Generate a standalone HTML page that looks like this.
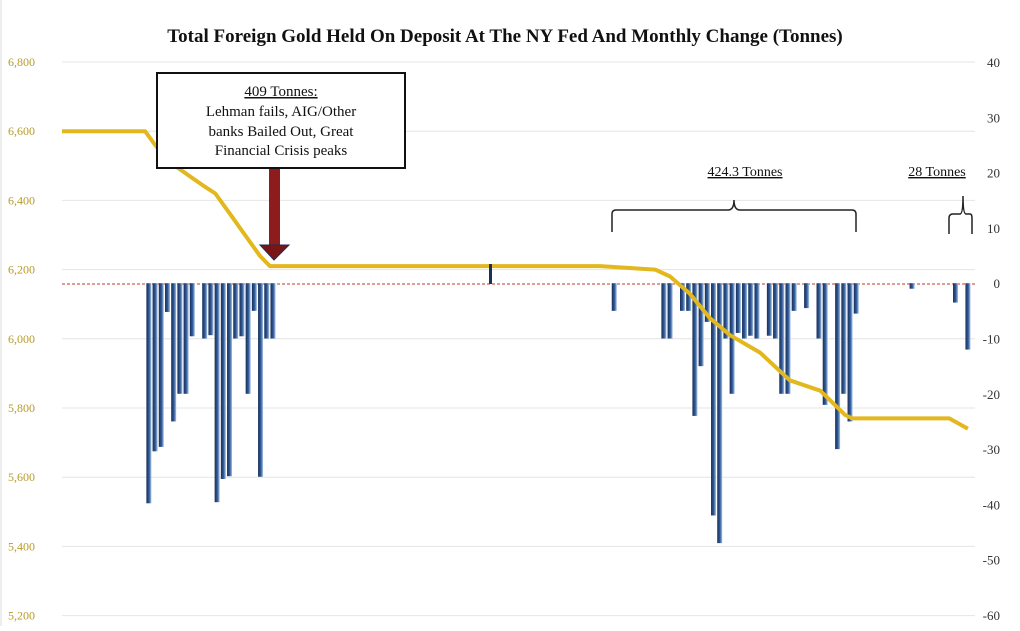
<!DOCTYPE html>
<html><head><meta charset="utf-8"><style>
body{margin:0;background:#fff;}
svg text{font-family:"Liberation Serif",serif;}
</style></head><body>
<svg id="chart" width="1020" height="626" viewBox="0 0 1020 626" xmlns="http://www.w3.org/2000/svg">
<defs>
<linearGradient id="barg" x1="0" x2="1" y1="0" y2="0">
<stop offset="0" stop-color="#1c2f55"/><stop offset="0.55" stop-color="#2e5a9a"/><stop offset="1" stop-color="#a9c4e6"/>
</linearGradient>
</defs>
<rect x="0" y="0" width="1020" height="626" fill="#fff"/>
<line x1="1" y1="0" x2="1" y2="626" stroke="#ddd"/>
<text x="505" y="42" text-anchor="middle" font-size="19" font-weight="bold" fill="#111">Total Foreign Gold Held On Deposit At The NY Fed And Monthly Change (Tonnes)</text>
<g id="grid"></g><g id="leftAxis"></g><g id="rightAxis"></g>
<line x1="62" y1="284" x2="975" y2="284" stroke="#c0392b" stroke-dasharray="3,2" stroke-width="1"/>
<g id="bars"></g>
<path id="goldLine" fill="none" stroke="#e3b81e" stroke-width="4" stroke-linejoin="round"/>
<g>
<rect x="157" y="73" width="248" height="95" fill="#fff" stroke="#111" stroke-width="2"/>
<text x="281" y="96" text-anchor="middle" font-size="15" text-decoration="underline" fill="#111">409 Tonnes:</text>
<text x="281" y="116" text-anchor="middle" font-size="15" fill="#111">Lehman fails, AIG/Other</text>
<text x="281" y="136" text-anchor="middle" font-size="15" fill="#111">banks Bailed Out, Great</text>
<text x="281" y="155" text-anchor="middle" font-size="15" fill="#111">Financial Crisis peaks</text>
</g>
<g>
<rect x="269" y="169" width="11" height="77" fill="#8e1c1c"/>
<polygon points="260,245 289,245 274,260" fill="#7a1515" stroke="#1c2f55" stroke-width="1"/>
</g>
<g fill="none" stroke="#222" stroke-width="1.5">
<path d="M612,232 V214 Q612,210 616,210 H728 Q734,210 734,200 Q734,210 740,210 H852 Q856,210 856,214 V232"/>
</g>
<text x="745" y="176" text-anchor="middle" font-size="14" text-decoration="underline" fill="#111">424.3 Tonnes</text>
<g fill="none" stroke="#222" stroke-width="1.5">
<path d="M949,234 V218 Q949,214 953,214 H960 Q963,214 963,196 Q963,214 966,214 H970 Q972,214 972,218 V234"/>
</g>
<text x="937" y="176" text-anchor="middle" font-size="14" text-decoration="underline" fill="#111">28 Tonnes</text>
<rect x="489" y="264" width="3" height="20" fill="#1c2f55"/>
<script>
const leftTicks=[6800,6600,6400,6200,6000,5800,5600,5400,5200];
const leftLabels=["6,800","6,600","6,400","6,200","6,000","5,800","5,600","5,400","5,200"];
const rightTicks=[40,30,20,10,0,-10,-20,-30,-40,-50,-60];
const barMonths=[14,15,16,17,18,19,20,21,23,24,25,26,27,28,29,30,31,32,33,34,89,97,98,100,101,102,103,104,105,106,107,108,109,110,111,112,114,115,116,117,118,120,122,123,125,126,127,128,137,144,146];
const barValues=[-39.8,-30.4,-29.6,-5.2,-25,-20,-20,-9.6,-10,-9.4,-39.6,-35.4,-34.9,-10,-9.6,-20,-5,-35,-10,-10,-5,-10,-10,-5,-5,-24,-15,-7,-42,-47,-10,-20,-9,-10,-9.5,-10,-9.5,-10,-20,-20,-5,-4.5,-10,-22,-30,-20,-25,-5.5,-1,-3.5,-12];
const lineMonths=[0,13.4,15,17.4,20.6,23,24.7,27.1,29.5,31.9,33.5,69,86.7,95.6,98,101.2,104.4,107.7,112.5,117.3,122.2,126.2,127.3,143,146];
const lineValues=[6600,6600,6560,6510,6470,6440,6420,6360,6300,6240,6210,6210,6210,6200,6180,6130,6060,6010,5960,5880,5850,5780,5770,5770,5740];
const xS=m=>62+m*6.205;
const yL=v=>62+(6800-v)/200*69.2;
const yR=v=>62+(40-v)/10*55.3;
const NS="http://www.w3.org/2000/svg";
function mk(tag,attrs,parent){const e=document.createElementNS(NS,tag);for(const k in attrs)e.setAttribute(k,attrs[k]);parent.appendChild(e);return e;}
const grid=document.getElementById('grid'),la=document.getElementById('leftAxis'),ra=document.getElementById('rightAxis');
leftTicks.forEach((t,i)=>{
 const g=mk('line',{x1:62,x2:975,y1:yL(t),y2:yL(t),stroke:'#e4e4e4','stroke-width':1},grid);
 
 
 const tx=mk('text',{x:8,y:yL(t)+4,'font-size':12,fill:'#b89a2a'},la);
 tx.textContent=leftLabels[i];
 
 
});
rightTicks.forEach(t=>{
 const tx=mk('text',{x:1000,y:yR(t)+5,'font-size':13,fill:'#333','text-anchor':'end'},ra);
 tx.textContent=String(t);
 
 
});
const bars=document.getElementById('bars');
barMonths.forEach((m,i)=>{
 const v=barValues[i];const y0=yR(0),y1=yR(v);
 const r=mk('rect',{x:xS(m)-2.5,y:Math.min(y0,y1),width:5,height:Math.abs(y1-y0),fill:'url(#barg)'},bars);
 
 
});
document.getElementById('goldLine').setAttribute('d',lineMonths.map((m,i)=>(i?'L':'M')+xS(m).toFixed(1)+','+yL(lineValues[i]).toFixed(1)).join(' '));
</script>
</svg>
</body></html>
